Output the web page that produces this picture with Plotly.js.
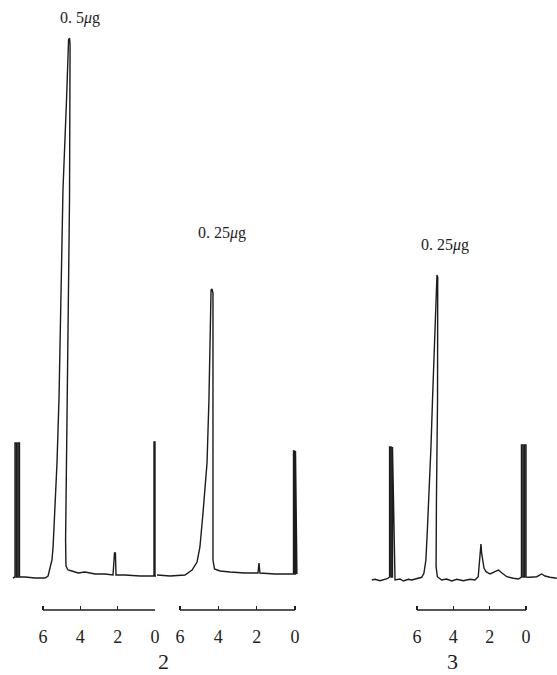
<!DOCTYPE html>
<html>
<head>
<meta charset="utf-8">
<script src="https://cdn.plot.ly/plotly-3.0.1.min.js"></script>
<style>html,body{margin:0;padding:0;background:#fff;}#chart{width:557px;height:675px;}</style>
</head>
<body>
<div id="chart"></div>
<script>
// ---- data (retention time in min, detector signal in arbitrary units) ----
const tickValues = [6, 4, 2, 0];
const tickLabels = ["6", "4", "2", "0"];
const sampleLabels = ["0. 5<i>μ</i>g", "0. 25<i>μ</i>g", "0. 25<i>μ</i>g"];
const panelLabels = ["2", "3"];

// chromatogram 1 (0.5 μg)
const timeA = [7.61, 7.50, 7.50, 7.42, 7.42, 7.34, 7.34, 7.26, 7.26, 6.96, 6.43, 5.89, 5.73, 5.62, 5.52, 5.46, 5.36, 5.25, 5.14, 4.93, 4.74, 4.63, 4.58, 4.55, 4.58, 4.71, 4.79, 4.77, 4.66, 4.45, 4.12, 3.75, 3.21, 2.68, 2.25, 2.17, 2.12, 2.09, 1.61, 0.80, 0.11, 0.054, 0.054, 0.0, 0.0, -0.054];
const sigA  = [-0.6, -0.4, 26.4, 26.4, -0.4, -0.4, 26.4, 26.4, -0.4, -0.4, -0.6, -0.6, -0.2, 1.2, 3.0, 5.6, 12.4, 22.4, 35.6, 77, 95, 107, 107.4, 106, 75, 35, 7, 1.8, 1.0, 0.8, 0.4, 0.6, 0.2, 0.2, 0.0, 4.4, 4.4, 0.0, 0.0, -0.2, -0.2, -0.2, 26.6, 26.6, -0.2, -0.2];

// chromatogram 2 (0.25 μg)
const timeB = [7.20, 6.52, 5.74, 5.37, 5.11, 4.96, 4.80, 4.59, 4.49, 4.38, 4.33, 4.28, 4.28, 4.28, 4.20, 3.91, 3.39, 2.61, 1.93, 1.88, 1.83, 1.04, 0.16, 0.078, 0.078, 0.026, 0.026, -0.026, -0.026, -0.10];
const sigB  = [0.0, -0.2, 0.0, 1.0, 2.6, 5.6, 12.4, 22.4, 35, 57, 57.2, 56.4, 35, 3.0, 1.2, 0.8, 0.6, 0.4, 0.4, 2.4, 0.4, 0.2, 0.2, 0.2, 24.8, 24.8, 0.2, 0.2, 24.8, 0.2];

// chromatogram 3 (0.25 μg)
const timeC = [8.49, 8.31, 8.04, 7.76, 7.64, 7.51, 7.51, 7.43, 7.43, 7.35, 7.35, 7.21, 6.94, 6.75, 6.48, 6.29, 6.02, 5.74, 5.62, 5.51, 5.43, 5.34, 5.23, 5.14, 5.04, 4.90, 4.86, 4.87, 4.93, 4.95, 4.88, 4.64, 4.37, 4.09, 3.81, 3.45, 3.08, 2.81, 2.63, 2.53, 2.48, 2.44, 2.38, 2.31, 2.20, 1.98, 1.71, 1.52, 1.34, 1.06, 0.70, 0.42, 0.25, 0.25, 0.165, 0.165, 0.083, 0.083, 0.0, 0.0, -0.22, -0.59, -0.86, -1.05, -1.32, -1.69];
const sigC  = [-1.0, -0.86, -1.14, -0.86, -0.74, -0.4, 25.6, 25.6, -0.4, -0.4, 25.6, -1.0, -0.8, -1.2, -0.86, -1.0, -0.74, -0.46, 0.34, 3.0, 9.0, 15.7, 25.7, 35.7, 47, 60, 59.6, 35, 15, 1.66, -0.34, -1.0, -0.8, -1.2, -0.86, -1.14, -0.86, -1.0, -0.34, 3.66, 6.2, 4.34, 3.0, 1.34, 0.66, 0.2, 0.66, 1.0, 0.46, -0.34, -0.66, -0.8, -0.4, 26, 26, -0.4, -0.4, 26, 26, -0.4, -0.46, -0.34, 0.2, -0.2, -0.46, -0.66];

// ---- layout helpers (pixel placement of each time axis) ----
const W = 557, H = 675;
const panels = [
  {px6: 43,  px0: 155, left: 0,   right: 156},
  {px6: 180, px0: 295, left: 156, right: 300},
  {px6: 417, px0: 526, left: 365, right: 557}
];
const yBottom = 1 - 610 / H;
const SERIF = '"Liberation Serif", "Times New Roman", "DejaVu Serif", serif';

function axisFor(p) {
  const k = 6 / (p.px0 - p.px6);
  return {
    domain: [p.left / W, p.right / W],
    range: [(p.px0 - p.left) * k, (p.px0 - p.right) * k],
    anchor: 'y',
    tickmode: 'array', tickvals: tickValues, ticktext: tickLabels,
    ticks: 'inside', ticklen: 4, tickwidth: 1.3, tickcolor: '#1e1e1e',
    ticklabelstandoff: 14,
    tickfont: {family: SERIF, size: 18, color: '#222'},
    showline: false, showgrid: false, zeroline: false, fixedrange: true
  };
}

const lineStyle = {color: '#1c1c1c', width: 1.4};
const data = [
  {x: timeA, y: sigA, xaxis: 'x',  yaxis: 'y', type: 'scatter', mode: 'lines', line: lineStyle, hoverinfo: 'skip'},
  {x: timeB, y: sigB, xaxis: 'x2', yaxis: 'y', type: 'scatter', mode: 'lines', line: lineStyle, hoverinfo: 'skip'},
  {x: timeC, y: sigC, xaxis: 'x3', yaxis: 'y', type: 'scatter', mode: 'lines', line: lineStyle, hoverinfo: 'skip'}
];

const shapes = ['x', 'x2', 'x3'].map(ax => ({
  type: 'line', xref: ax, yref: 'paper', x0: tickValues[0], x1: tickValues[tickValues.length - 1],
  y0: yBottom, y1: yBottom, line: {color: '#1e1e1e', width: 1.3}
}));

const labelFont = {family: SERIF, size: 16, color: '#1e1e1e'};
const annotations = [
  {text: sampleLabels[0], x: 80 / W,  y: 1 - 18 / H},
  {text: sampleLabels[1], x: 222 / W, y: 1 - 233 / H},
  {text: sampleLabels[2], x: 445 / W, y: 1 - 245 / H}
].map(a => Object.assign(a, {xref: 'paper', yref: 'paper', showarrow: false, xanchor: 'center', yanchor: 'middle', font: labelFont}));
[[panelLabels[0], 163], [panelLabels[1], 452]].forEach(([t, px]) => annotations.push({
  text: t, x: px / W, y: 1 - 661 / H, xref: 'paper', yref: 'paper', showarrow: false,
  xanchor: 'center', yanchor: 'middle', font: {family: SERIF, size: 22, color: '#1e1e1e'}
}));

const layout = {
  width: W, height: H,
  margin: {l: 0, r: 0, t: 0, b: 0},
  paper_bgcolor: '#ffffff', plot_bgcolor: 'rgba(0,0,0,0)',
  showlegend: false,
  xaxis: axisFor(panels[0]),
  xaxis2: axisFor(panels[1]),
  xaxis3: axisFor(panels[2]),
  yaxis: {domain: [yBottom, 1], range: [-7, 115], visible: false, fixedrange: true},
  shapes: shapes,
  annotations: annotations
};

Plotly.newPlot('chart', data, layout, {staticPlot: true, displayModeBar: false});
</script>
</body>
</html>
